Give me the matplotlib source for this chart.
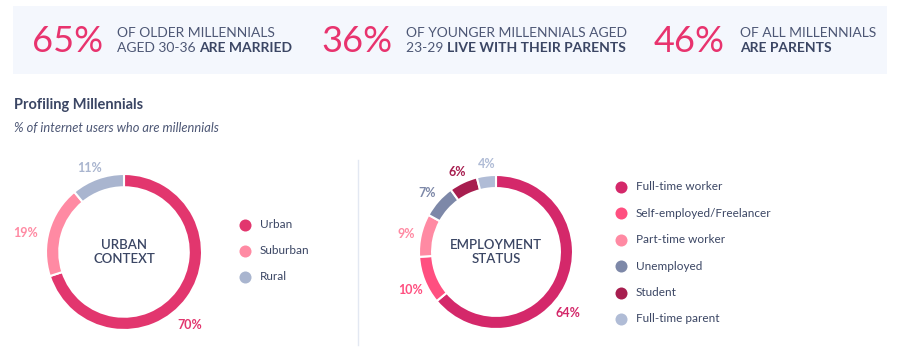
import matplotlib.pyplot as plt
from matplotlib.patches import Rectangle

plt.rcParams['font.family'] = ['Lato', 'DejaVu Sans']

# banner stats
stat_values = ['65%', '36%', '46%']
stat_line1 = ['OF OLDER MILLENNIALS', 'OF YOUNGER MILLENNIALS AGED', 'OF ALL MILLENNIALS']
stat_line2_plain = ['AGED 30-36 ', '23-29 ', '']
stat_line2_bold = ['ARE MARRIED', 'LIVE WITH THEIR PARENTS', 'ARE PARENTS']

# donut 1
urban_labels = ['Urban', 'Suburban', 'Rural']
urban_values = [70, 19, 11]
urban_colors = ['#e2366e', '#ff8aa3', '#a9b5cf']

# donut 2
emp_labels = ['Full-time worker', 'Self-employed/Freelancer', 'Part-time worker',
              'Unemployed', 'Student', 'Full-time parent']
emp_values = [64, 10, 9, 7, 6, 4]
emp_colors = ['#d4286a', '#ff4f80', '#ff8aa3', '#7d88a8', '#a71e4f', '#b0bcd6']

W, H = 900, 360
dark = '#3b4664'
mid = '#4d5775'
pink = '#e8336e'

fig = plt.figure(figsize=(9, 3.6), dpi=100)
bg = fig.add_axes([0, 0, 1, 1])
bg.set_xlim(0, W)
bg.set_ylim(H, 0)
bg.axis('off')

# banner
bg.add_patch(Rectangle((13, 6), 874, 68, color='#f4f7fd', lw=0))
num_x = [32, 321, 654]
txt_x = [117, 406, 740]
for i in range(3):
    bg.text(num_x[i], 41, stat_values[i], fontsize=26, color=pink,
            va='center', ha='left')
    bg.text(txt_x[i], 33, stat_line1[i], fontsize=10, color=mid,
            va='center', ha='left')
    t = bg.text(txt_x[i], 48, stat_line2_plain[i], fontsize=10, color=mid,
                va='center', ha='left')
    fig.canvas.draw()
    bb = t.get_window_extent()
    x2 = txt_x[i] + (bb.width if stat_line2_plain[i] else 0)
    bg.text(x2, 48, stat_line2_bold[i], fontsize=10, color=dark,
            fontweight='bold', va='center', ha='left')

# titles
bg.text(14, 105, 'Profiling Millennials', fontsize=10.5, fontweight='bold',
        color=dark, va='center')
bg.text(14, 128, '% of internet users who are millennials', fontsize=9.3,
        style='italic', color=mid, va='center')

# divider
bg.plot([358, 358], [160, 345], color='#e3e8f2', lw=1)


def donut(cx, cy, r, values, colors, center_text, label_pos):
    ax = fig.add_axes([(cx - r) / W, 1 - (cy + r) / H, 2 * r / W, 2 * r / H])
    ax.pie(values, colors=colors, startangle=90, counterclock=False,
           radius=1, wedgeprops=dict(width=0.17, edgecolor='white', linewidth=1.5))
    ax.set_xlim(-1, 1)
    ax.set_ylim(-1, 1)
    ax.set_aspect('auto')
    ax.axis('off')
    ax.text(0, 0, center_text, ha='center', va='center', fontsize=9.5,
            fontweight='semibold', color=dark, linespacing=1.25)
    for v, c, (lx, ly) in zip(values, colors, label_pos):
        bg.text(lx, ly, f'{v}%', fontsize=9, fontweight='bold', color=c,
                ha='center', va='center')


donut(124, 252, 78, urban_values, urban_colors, 'URBAN\nCONTEXT',
      [(190, 325), (26, 233), (90, 168)])
donut(496, 252, 77, emp_values, emp_colors, 'EMPLOYMENT\nSTATUS',
      [(568, 313), (411, 290), (406, 234), (427, 193), (457, 172), (487, 164)])

# legends
for i, (lab, c) in enumerate(zip(urban_labels, urban_colors)):
    y = 225 + i * 26
    bg.scatter(245, y, s=75, color=c, lw=0)
    bg.text(260, y, lab, fontsize=8.5, color=dark, va='center')

for i, (lab, c) in enumerate(zip(emp_labels, emp_colors)):
    y = 187 + i * 26.4
    bg.scatter(621, y, s=75, color=c, lw=0)
    bg.text(636, y, lab, fontsize=8.5, color=dark, va='center')

fig.savefig('out.png', dpi=100, facecolor='white')
